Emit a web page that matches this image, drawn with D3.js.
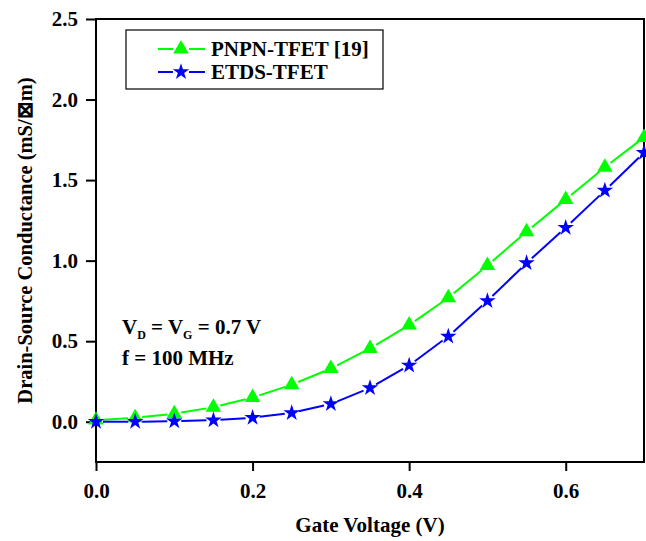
<!DOCTYPE html>
<html lang="en">
<head>
<meta charset="utf-8">
<title>Drain-Source Conductance</title>
<script src="https://cdn.jsdelivr.net/npm/d3@7"></script>
<style>
  body { margin: 0; background: #fff; }
  svg text { font-family: "Liberation Serif", "Times New Roman", serif; font-weight: bold; }
</style>
</head>
<body>
<div id="vis-container"></div>
<script>
// gate voltage (V)
var gateVoltage = [0, 0.05, 0.1, 0.15, 0.2, 0.25, 0.3, 0.35, 0.4, 0.45, 0.5, 0.55, 0.6, 0.65, 0.7];
// conductance (mS/um)
var pnpnValues = [0.01, 0.025, 0.05, 0.09, 0.15, 0.23, 0.33, 0.455, 0.60, 0.77, 0.97, 1.18, 1.38, 1.58, 1.765];
var etdsValues = [0.0, 0.0, 0.003, 0.01, 0.025, 0.055, 0.11, 0.21, 0.35, 0.53, 0.75, 0.985, 1.205, 1.435, 1.67];
var xTicks = [0, 0.2, 0.4, 0.6];
var yTicks = [0, 0.5, 1.0, 1.5, 2.0, 2.5];
var seriesNames = ["PNPN-TFET [19]", "ETDS-TFET"];
var seriesColors = ["#00ff00", "#0000ff"];

var margin = { top: 19, right: 2, bottom: 79, left: 96 },
    width = 646 - margin.left - margin.right,
    height = 541 - margin.top - margin.bottom;

var svg = d3.select("#vis-container").append("svg")
    .attr("width", 646).attr("height", 541);
var g = svg.append("g")
    .attr("transform", "translate(" + margin.left + "," + margin.top + ")");

var x = d3.scaleLinear().domain([0, 0.7]).range([0, width]);
var y = d3.scaleLinear().domain([-0.25, 2.5]).range([height, 0]);

// axes
var xAxis = g.append("g")
    .attr("transform", "translate(0," + height + ")")
    .call(d3.axisBottom(x).tickValues(xTicks).tickFormat(d3.format(".1f")).tickSize(9).tickPadding(12));
var yAxis = g.append("g")
    .call(d3.axisLeft(y).tickValues(yTicks).tickFormat(d3.format(".1f")).tickSize(10).tickPadding(8));
[xAxis, yAxis].forEach(function(a) {
    a.select(".domain").remove();
    a.selectAll("line").attr("stroke", "#000").attr("stroke-width", 2);
    a.selectAll("text").attr("fill", "#000").style("font-size", "21px");
});

// frame
g.append("rect")
    .attr("x", 0).attr("y", 0)
    .attr("width", width).attr("height", height)
    .attr("fill", "none").attr("stroke", "#000").attr("stroke-width", 2);

var star = d3.symbol().type(d3.symbolStar).size(85);
var tri = d3.symbol().type(d3.symbolTriangle).size(105);

function drawSeries(vals, color, sym) {
    var pts = gateVoltage.map(function(v, i) { return [x(v), y(vals[i])]; });
    var gap = 7;
    for (var i = 0; i < pts.length - 1; i++) {
        var a = pts[i], b = pts[i + 1];
        var dx = b[0] - a[0], dy = b[1] - a[1];
        var len = Math.sqrt(dx * dx + dy * dy);
        if (len <= 2 * gap) continue;
        var ux = dx / len, uy = dy / len;
        g.append("line")
            .attr("x1", a[0] + ux * gap).attr("y1", a[1] + uy * gap)
            .attr("x2", b[0] - ux * gap).attr("y2", b[1] - uy * gap)
            .attr("stroke", color).attr("stroke-width", 2);
    }
    g.selectAll(null).data(pts).enter().append("path")
        .attr("d", sym)
        .attr("transform", function(d) { return "translate(" + d[0] + "," + d[1] + ")"; })
        .attr("fill", color);
}
drawSeries(pnpnValues, seriesColors[0], tri);
drawSeries(etdsValues, seriesColors[1], star);

// legend
var legend = svg.append("g").attr("transform", "translate(126,30)");
legend.append("rect")
    .attr("width", 257).attr("height", 59)
    .attr("fill", "#fff").attr("stroke", "#000").attr("stroke-width", 1.2);
[tri, star].forEach(function(sym, i) {
    var ly = 19 + i * 23;
    legend.append("line").attr("x1", 32).attr("x2", 47).attr("y1", ly).attr("y2", ly)
        .attr("stroke", seriesColors[i]).attr("stroke-width", 2);
    legend.append("line").attr("x1", 63).attr("x2", 79).attr("y1", ly).attr("y2", ly)
        .attr("stroke", seriesColors[i]).attr("stroke-width", 2);
    legend.append("path").attr("d", sym)
        .attr("transform", "translate(55," + ly + ")").attr("fill", seriesColors[i]);
    legend.append("text").attr("x", 85).attr("y", ly + 7)
        .style("font-size", "21px").text(seriesNames[i]);
});

// annotation
var ann = svg.append("text").attr("x", 122).attr("y", 334).style("font-size", "21px");
ann.append("tspan").text("V");
ann.append("tspan").attr("dy", 5).style("font-size", "12px").text("D");
ann.append("tspan").attr("dy", -5).text(" = V");
ann.append("tspan").attr("dy", 5).style("font-size", "12px").text("G");
ann.append("tspan").attr("dy", -5).text(" = 0.7 V");
svg.append("text").attr("x", 122).attr("y", 365).style("font-size", "21px").text("f = 100 MHz");

// axis titles
svg.append("text")
    .attr("x", margin.left + width / 2).attr("y", 532)
    .attr("text-anchor", "middle").style("font-size", "21px")
    .text("Gate Voltage (V)");
svg.append("text")
    .attr("transform", "translate(32," + (margin.top + height / 2) + ") rotate(-90)")
    .attr("text-anchor", "middle").style("font-size", "20.5px")
    .text("Drain-Source Conductance (mS/\u22a0m)");
</script>
</body>
</html>
